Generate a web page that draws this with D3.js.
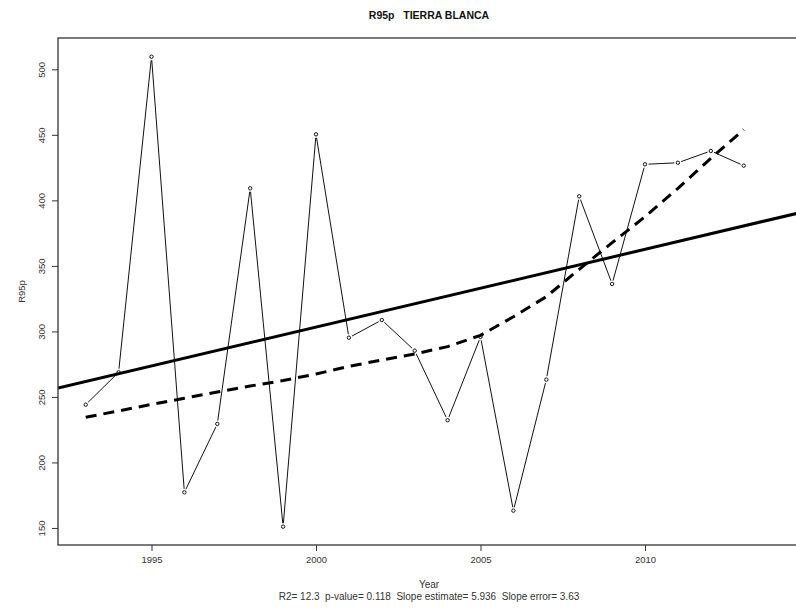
<!DOCTYPE html>
<html><head><meta charset="utf-8">
<script src="https://cdn.jsdelivr.net/npm/d3@7"></script>
<style>body{margin:0;background:#fff}svg{display:block;font-family:"Liberation Sans",Arial,sans-serif}text{white-space:pre}</style>
</head><body>
<script>
const years = [1993,1994,1995,1996,1997,1998,1999,2000,2001,2002,2003,2004,2005,2006,2007,2008,2009,2010,2011,2012,2013];
const r95p = [244.1,268.8,509.6,177.2,229.4,409.2,151.0,450.4,295.2,308.7,285.3,232.2,295.8,163.2,263.2,403.1,336.2,427.5,428.7,437.7,426.5];
const smooth = [234.5,239.3,244.3,249.0,253.8,258.3,262.5,267.5,273.3,278.2,282.8,288.4,297.0,311.2,326.5,347.4,367.7,387.5,409.2,432.0,454.0];
const xTicks = [1995,2000,2005,2010];
const yTicks = [150,200,250,300,350,400,450,500];
const title = "R95p   TIERRA BLANCA";
const xLabel = "Year";
const yLabel = "R95p";
const subtitle = "R2= 12.3  p-value= 0.118  Slope estimate= 5.936  Slope error= 3.63";

const W = 796, H = 608;
const L = 58, R = 800, T = 38, B = 545;
const svg = d3.select("body").append("svg").attr("width", W).attr("height", H);
const x = d3.scaleLinear().domain([1992.158, 2014.711]).range([L, R]);
const y = d3.scaleLinear().domain([137.0, 523.9]).range([B, T]);

svg.append("defs").append("clipPath").attr("id","clip")
  .append("rect").attr("x", L).attr("y", T).attr("width", R - L).attr("height", B - T);
const plot = svg.append("g").attr("clip-path","url(#clip)");

// data line with gaps around points (type="b")
const pts = years.map((d,i)=>[x(d), y(r95p[i])]);
const gap = 3.5;
for (let i=0;i<pts.length-1;i++){
  const [x1,y1]=pts[i],[x2,y2]=pts[i+1];
  const dx=x2-x1, dy=y2-y1, len=Math.hypot(dx,dy);
  if (len <= 2*gap) continue;
  const ux=dx/len, uy=dy/len;
  plot.append("line").attr("x1",x1+ux*gap).attr("y1",y1+uy*gap)
    .attr("x2",x2-ux*gap).attr("y2",y2-uy*gap)
    .attr("stroke","#111").attr("stroke-width",1);
}
plot.selectAll("circle.pt").data(years).join("circle").attr("class","pt")
  .attr("cx",d=>x(d)).attr("cy",(d,i)=>y(r95p[i])).attr("r",1.7)
  .attr("fill","none").attr("stroke","#111").attr("stroke-width",1);

// least-squares fit
const mx = d3.mean(years), my = d3.mean(r95p);
const slope = d3.sum(years,(d,i)=>(d-mx)*(r95p[i]-my)) / d3.sum(years,d=>(d-mx)*(d-mx));
const icpt = my - slope*mx;
const xd = x.domain();
plot.append("line").attr("x1",x(xd[0])).attr("y1",y(icpt+slope*xd[0]))
  .attr("x2",x(xd[1])).attr("y2",y(icpt+slope*xd[1]))
  .attr("stroke","#000").attr("stroke-width",3);

// smoothed (lowess) dashed
plot.append("path").datum(years)
  .attr("d", d3.line().x(d=>x(d)).y((d,i)=>y(smooth[i])))
  .attr("fill","none").attr("stroke","#000").attr("stroke-width",3)
  .attr("stroke-dasharray","11,7");

// box
svg.append("rect").attr("x",L).attr("y",T).attr("width",R-L).attr("height",B-T)
  .attr("fill","none").attr("stroke","#333").attr("stroke-width",1.3);

// axes
const xa = svg.append("g").attr("transform",`translate(0,${B})`)
  .call(d3.axisBottom(x).tickValues(xTicks).tickFormat(d3.format("d")).tickSize(6).tickPadding(5));
xa.select(".domain").remove();
const ya = svg.append("g").attr("transform",`translate(${L},0)`)
  .call(d3.axisLeft(y).tickValues(yTicks).tickSize(6).tickPadding(0));
ya.select(".domain").remove();
ya.selectAll(".tick text").attr("transform","rotate(-90)").attr("x",0).attr("y",-13.5)
  .attr("dy","0").attr("text-anchor","middle");
[xa,ya].forEach(a=>{
  a.selectAll(".tick line").attr("stroke","#333");
  a.selectAll(".tick text").attr("fill","#333").attr("font-size","9.5px")
   .attr("font-family",'"Liberation Sans",Arial,sans-serif');
});

svg.append("text").attr("x",(L+R)/2).attr("y",19).attr("text-anchor","middle")
  .attr("font-weight","bold").attr("font-size","10.5px").attr("fill","#111").text(title);
svg.append("text").attr("x",(L+R)/2).attr("y",588).attr("text-anchor","middle")
  .attr("font-size","10px").attr("fill","#333").text(xLabel);
svg.append("text").attr("x",(L+R)/2).attr("y",600).attr("text-anchor","middle")
  .attr("font-size","10px").attr("fill","#333").text(subtitle);
svg.append("text").attr("transform",`translate(25,${(T+B)/2}) rotate(-90)`).attr("text-anchor","middle")
  .attr("font-size","9.5px").attr("fill","#333").text(yLabel);
</script>
</body></html>
